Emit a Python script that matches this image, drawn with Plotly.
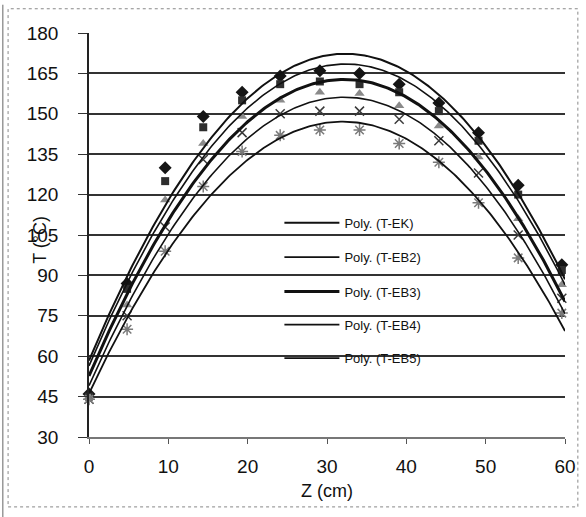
import numpy as np
import plotly.graph_objects as go

# Data
z_cm = [0, 4.8, 9.6, 14.4, 19.3, 24.1, 29.1, 34.1, 39.1, 44.1, 49.1, 54.1, 59.6]
t_ek = [46, 87, 130, 149, 158, 164, 166, 165, 161, 154, 143, 123.5, 94]
t_eb2 = [45, 85, 125, 145, 155, 161, 162, 161, 158, 151, 140, 120, 92]
t_eb3 = [45, 79, 118, 139, 149, 155, 158, 157.5, 153, 145.5, 134, 111, 86.5]
t_eb4 = [44, 75, 108, 133, 143, 150, 151, 151, 148, 140, 128, 105, 81.5]
t_eb5 = [44, 70, 99, 123, 136, 142, 144, 144, 139, 132, 117, 96.5, 76]

series_names = ["T-EK", "T-EB2", "T-EB3", "T-EB4", "T-EB5"]
series_values = [t_ek, t_eb2, t_eb3, t_eb4, t_eb5]
marker_symbols = ["diamond", "square", "triangle-up", "x-thin", "asterisk"]
marker_colors = ["#151515", "#2e2e2e", "#8a8a8a", "#3a3a3a", "#7a7a7a"]
marker_sizes = [10, 8, 9, 9, 10]
line_widths = [2, 1.6, 3, 1.6, 1.8]

x_ticks = [0, 10, 20, 30, 40, 50, 60]
y_ticks = [30, 45, 60, 75, 90, 105, 120, 135, 150, 165, 180]

FONT = "Liberation Sans Narrow, Arial Narrow, Liberation Sans, Arial, sans-serif"

fig = go.Figure()

# markers (not in legend)
for name, vals, sym, col, sz in zip(series_names, series_values, marker_symbols, marker_colors, marker_sizes):
    mline = dict(width=1.5, color=col) if sym in ("x-thin", "asterisk") else dict(width=0)
    fig.add_trace(go.Scatter(
        x=z_cm, y=vals, mode="markers", name=name, showlegend=False,
        marker=dict(symbol=sym, size=sz, color=col, line=mline),
        cliponaxis=False,
    ))

# polynomial (order 2) trendlines, each with its own legend box
legend_ids = ["legend", "legend2", "legend3", "legend4", "legend5"]
xs = np.linspace(0, 60, 241)
for name, vals, lw, lg in zip(series_names, series_values, line_widths, legend_ids):
    coef = np.polyfit(z_cm, vals, 2)
    fig.add_trace(go.Scatter(
        x=xs, y=np.polyval(coef, xs), mode="lines", name="Poly. (" + name + ")",
        line=dict(color="#111111", width=lw), showlegend=True, legend=lg,
    ))

legend_rows_y = [0.53, 0.445, 0.36, 0.278, 0.195]
legend_common = dict(
    x=0.40, xanchor="left", yanchor="middle",
    bgcolor="rgba(0,0,0,0)", font=dict(family=FONT, size=13, color="#111111"),
    borderwidth=0, itemwidth=55,
)
legend_layout = {}
for lg, ly in zip(legend_ids, legend_rows_y):
    legend_layout[lg] = dict(legend_common, y=ly)

fig.update_layout(
    width=586, height=517,
    margin=dict(l=89, r=21, t=33, b=80),
    paper_bgcolor="white", plot_bgcolor="white",
    font=dict(family=FONT, size=19, color="#111111"),
    showlegend=True,
    xaxis=dict(
        range=[0, 60], tickvals=x_ticks, ticktext=[str(v) for v in x_ticks],
        showgrid=False, zeroline=False, showline=True, linecolor="#777777", linewidth=1.5,
        ticks="outside", ticklen=5, tickcolor="#555555",
        ticklabelstandoff=6, automargin=False,
    ),
    yaxis=dict(
        range=[30, 180], tickvals=y_ticks, ticktext=[str(v) for v in y_ticks],
        showgrid=True, gridcolor="#333333", gridwidth=1.5,
        zeroline=False, showline=True, linecolor="#222222", linewidth=1.5,
        ticks="outside", ticklen=9, tickcolor="#333333",
        ticklabelstandoff=16, automargin=False,
    ),
    annotations=[
        dict(text="T (°C)", xref="paper", yref="paper", x=-0.103, y=0.488,
             textangle=-90, showarrow=False, font=dict(family=FONT, size=18),
             xanchor="center", yanchor="middle"),
        dict(text="Z (cm)", xref="paper", yref="paper", x=0.5, y=-0.134,
             showarrow=False, font=dict(family=FONT, size=18),
             xanchor="center", yanchor="middle"),
    ],
    shapes=[
        dict(type="rect", xref="paper", yref="paper", x0=-0.170, x1=1.027, y0=-0.173, y1=1.060,
             line=dict(color="#888888", width=1, dash="dot")),
        dict(type="line", xref="paper", yref="paper", x0=-0.181, x1=-0.181, y0=-0.2, y1=1.07,
             line=dict(color="#666666", width=1)),
    ],
    **legend_layout,
)

fig.write_html("out.html", config={"displayModeBar": False},
               post_script="document.body.style.margin='0';")
